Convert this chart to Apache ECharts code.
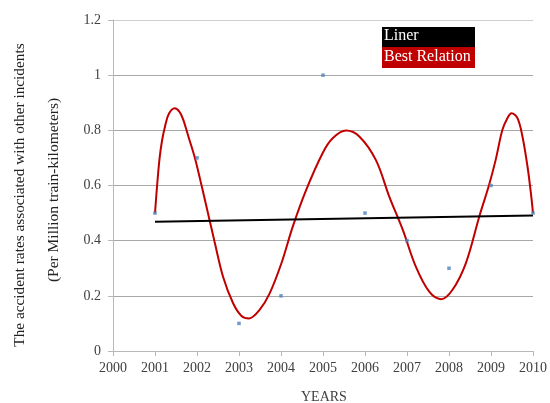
<!DOCTYPE html>
<html>
<head>
<meta charset="utf-8">
<script src="https://cdn.jsdelivr.net/npm/echarts@6/dist/echarts.min.js"></script>
<style>
html,body{margin:0;padding:0;background:#fff;}
#chart{width:550px;height:403px;}
</style>
</head>
<body>
<div id="chart"></div>
<script>
// Observed accident rates per year
const years = [2001, 2002, 2003, 2004, 2005, 2006, 2007, 2008, 2009, 2010];
const rates = [0.5, 0.7, 0.1, 0.2, 1.0, 0.5, 0.4, 0.3, 0.6, 0.5];

// Linear trend end points
const linerYears = [2001, 2010];
const linerValues = [0.469, 0.491];

// Fitted "best relation" curve samples
const curveYears = [2001.00, 2001.05, 2001.11, 2001.17, 2001.24, 2001.33, 2001.47, 2001.58, 2001.67, 2001.80,
  2001.95, 2002.07, 2002.20, 2002.42, 2002.62, 2002.86, 2003.06, 2003.24, 2003.49, 2003.73,
  2004.01, 2004.28, 2004.60, 2004.99, 2005.23, 2005.55, 2005.87, 2006.26, 2006.58, 2006.90,
  2007.21, 2007.53, 2007.81, 2008.08, 2008.40, 2008.72, 2008.95, 2009.11, 2009.27, 2009.39,
  2009.49, 2009.63, 2009.75, 2009.87, 2009.95, 2010.00];
const curveValues = [0.50, 0.60, 0.70, 0.765, 0.815, 0.860, 0.880, 0.868, 0.840, 0.775,
  0.700, 0.625, 0.540, 0.395, 0.269, 0.173, 0.127, 0.118, 0.149, 0.209,
  0.318, 0.451, 0.584, 0.717, 0.771, 0.799, 0.777, 0.692, 0.559, 0.439,
  0.306, 0.215, 0.188, 0.221, 0.318, 0.487, 0.600, 0.692, 0.801, 0.844,
  0.862, 0.844, 0.777, 0.668, 0.572, 0.500];

const yTicks = [0, 0.2, 0.4, 0.6, 0.8, 1, 1.2];

const serif = '"Liberation Serif", "Times New Roman", serif';
const zip = (a, b) => a.map((v, i) => [v, b[i]]);

const chart = echarts.init(document.getElementById('chart'));
chart.setOption({
  animation: false,
  grid: { left: 113, right: 16, top: 20, bottom: 52 },
  xAxis: {
    type: 'value', min: 2000, max: 2010, interval: 1,
    axisLine: { show: true, lineStyle: { color: '#b8b8b8' } },
    axisTick: { show: true, length: 5, lineStyle: { color: '#b8b8b8' } },
    splitLine: { show: false },
    axisLabel: { color: '#404040', fontFamily: serif, fontSize: 14, margin: 10, formatter: v => String(v) }
  },
  yAxis: {
    type: 'value', min: yTicks[0], max: yTicks[yTicks.length - 1], interval: 0.2,
    axisLine: { show: true, lineStyle: { color: '#b8b8b8' } },
    axisTick: { show: true, length: 5, lineStyle: { color: '#b8b8b8' } },
    splitLine: { show: true, lineStyle: { color: ['#a8a8a8', '#a8a8a8', '#a8a8a8', '#a8a8a8', '#a8a8a8', '#a8a8a8', '#cfcfcf'], width: 1 } },
    axisLabel: { color: '#404040', fontFamily: serif, fontSize: 14, margin: 12, formatter: v => String(Math.round(v * 10) / 10) }
  },
  series: [
    {
      type: 'line', data: zip(curveYears, curveValues), smooth: 0.35, symbol: 'none',
      lineStyle: { color: '#c00000', width: 2 }, z: 2
    },
    {
      type: 'line', data: zip(linerYears, linerValues), symbol: 'none',
      lineStyle: { color: '#000000', width: 2 }, z: 3
    },
    {
      type: 'scatter', data: zip(years, rates), symbol: 'rect', symbolSize: 3.5,
      itemStyle: { color: '#4f81bd' }, z: 4
    }
  ],
  graphic: [
    { type: 'rect', left: 382, top: 27, shape: { width: 93, height: 20 }, style: { fill: '#000' } },
    { type: 'rect', left: 382, top: 47, shape: { width: 93, height: 21 }, style: { fill: '#c00000' } },
    { type: 'text', left: 384, top: 28, style: { text: 'Liner', fill: '#fff', font: '16px ' + serif } },
    { type: 'text', left: 384, top: 49, style: { text: 'Best Relation', fill: '#fff', font: '16px ' + serif } },
    { type: 'text', left: 301, top: 390, style: { text: 'YEARS', fill: '#404040', font: '14px ' + serif } },
    {
      type: 'text', x: 20, y: 195, rotation: Math.PI / 2,
      style: { text: 'The accident rates associated with other incidents', fill: '#222', font: '15.3px ' + serif, align: 'center', verticalAlign: 'middle' }
    },
    {
      type: 'text', x: 54, y: 190, rotation: Math.PI / 2,
      style: { text: '(Per Million train-kilometers)', fill: '#222', font: '15.5px ' + serif, align: 'center', verticalAlign: 'middle' }
    }
  ]
});
</script>
</body>
</html>
